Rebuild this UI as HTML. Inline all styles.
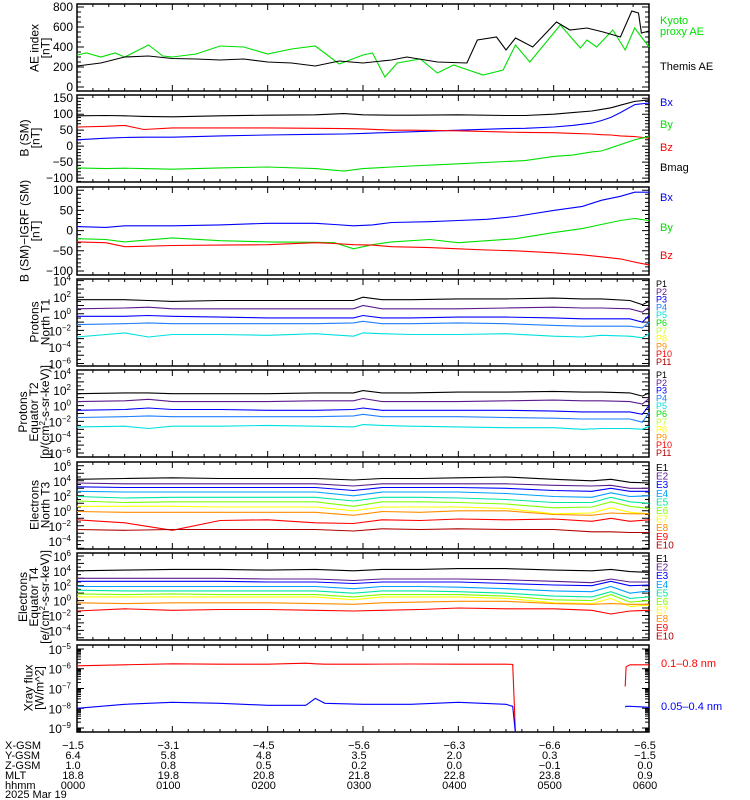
<!DOCTYPE html>
<html><head><meta charset="utf-8"><style>
html,body{margin:0;padding:0;background:#fff;}
svg{display:block;font-family:"Liberation Sans",sans-serif;}
</style></head><body>
<svg id="c" width="750" height="800" viewBox="0 0 750 800" xmlns="http://www.w3.org/2000/svg"></svg>
<script>
// ===== data =====
const aeBlackT=[0,0.25,0.5,0.75,1,1.25,1.5,1.75,2,2.25,2.5,2.75,3,3.3,3.46,3.78,4.09,4.2,4.4,4.5,4.6,4.78,5.03,5.17,5.35,5.52,5.7,5.82,5.89,5.92,6];
const aeBlack=[210,240,300,310,285,280,270,280,250,240,210,260,240,270,300,250,240,470,500,370,490,400,650,570,590,550,500,760,740,540,560];
const aeGreenT=[0,0.1,0.25,0.4,0.5,0.75,0.9,1,1.25,1.5,1.75,2,2.25,2.5,2.75,3,3.1,3.23,3.36,3.6,3.78,3.95,4.26,4.47,4.6,4.75,5.07,5.28,5.35,5.45,5.62,5.75,5.85,6];
const aeGreen=[320,340,300,340,300,420,310,300,330,410,400,330,380,410,230,320,340,100,240,280,140,220,120,170,420,250,620,390,470,400,570,370,590,400];
const bT=[0,0.3,0.5,0.7,1,1.5,2,2.5,2.8,3,3.3,3.5,4,4.5,4.7,5,5.2,5.4,5.5,5.6,5.7,5.85,6];
const bMag=[95,96,95,93,92,95,97,98,102,98,97,97,98,96,96,100,105,110,115,120,128,140,145];
const bX=[20,25,27,28,28,32,35,37,38,40,43,45,50,55,56,60,65,72,80,90,105,130,135];
const bZ=[60,62,65,52,57,57,57,56,55,54,50,50,48,44,43,42,40,38,36,35,32,30,25];
const bY=[-68,-70,-69,-70,-72,-68,-65,-70,-78,-70,-65,-62,-55,-48,-45,-32,-28,-18,-15,-5,5,20,30];
const gT=[0,0.3,0.5,1,1.5,2,2.5,2.7,2.9,3.1,3.3,3.7,4,4.3,4.6,5,5.3,5.5,5.7,5.85,6];
const gX=[10,8,12,12,14,18,18,15,12,14,20,22,25,28,35,50,60,75,85,95,95];
const gY=[-20,-22,-28,-18,-25,-28,-29,-30,-45,-35,-28,-22,-30,-25,-20,-5,5,15,25,30,25];
const gZ=[-28,-30,-40,-37,-36,-35,-30,-32,-35,-36,-40,-42,-45,-48,-50,-55,-60,-65,-70,-78,-85];
const pT=[0,0.5,0.75,1,1.5,2,2.5,2.9,3.0,3.2,3.5,4,4.5,5,5.3,5.5,5.8,5.93,6];
const pN1=[1.7,1.7,1.6,1.5,1.6,1.6,1.6,1.6,2.0,1.7,1.7,1.8,1.8,1.9,1.8,1.8,1.6,1.1,1.5];
const pN2=[0.6,0.7,0.8,0.6,0.6,0.6,0.6,0.6,1.0,0.6,0.6,0.6,0.7,0.8,0.7,0.7,0.6,0.2,0.8];
const pN3=[-0.3,-0.3,-0.2,-0.3,-0.4,-0.5,-0.5,-0.5,-0.2,-0.5,-0.5,-0.4,-0.4,-0.5,-0.6,-0.6,-0.6,-1.0,-0.2];
const pN4=[-1.3,-1.2,-1.1,-1.2,-1.2,-1.2,-1.2,-1.1,-0.9,-1.2,-1.2,-1.1,-1.2,-1.4,-1.5,-1.5,-1.5,-1.7,-1.0];
const pN5=[-2.8,-2.3,-2.8,-2.5,-2.5,-2.6,-2.4,-2.7,-2.3,-2.4,-2.5,-2.5,-2.4,-2.7,-2.8,-2.6,-2.7,-2.9,-2.4];
const pE1=[1.5,1.6,1.6,1.5,1.5,1.5,1.6,1.6,1.9,1.6,1.6,1.7,1.7,1.8,1.7,1.7,1.6,1.2,1.6];
const pE2=[0.5,0.6,0.8,0.5,0.5,0.5,0.6,0.6,0.9,0.5,0.5,0.5,0.6,0.7,0.6,0.6,0.5,0.2,0.9];
const pE3=[-0.6,-0.5,-0.3,-0.5,-0.5,-0.6,-0.6,-0.5,-0.3,-0.6,-0.6,-0.6,-0.6,-0.7,-0.8,-0.8,-0.8,-1.1,0.0];
const pE4=[-1.5,-1.4,-1.3,-1.4,-1.4,-1.4,-1.4,-1.3,-1.1,-1.4,-1.4,-1.4,-1.5,-1.6,-1.7,-1.7,-1.7,-2.1,-0.9];
const pE5=[-2.7,-2.6,-2.9,-2.6,-2.6,-2.5,-2.6,-2.7,-2.4,-2.5,-2.6,-2.7,-2.8,-2.8,-3.0,-2.9,-2.9,-3.0,-2.6];
const eT=[0,0.5,1,1.5,2,2.5,2.9,3.2,3.6,4,4.5,5,5.4,5.6,5.8,6];
const eN1=[4.2,4.3,4.4,4.3,4.3,4.3,4.1,4.3,4.3,4.4,4.5,4.2,4.0,4.2,3.8,3.7];
const eN2=[3.7,3.6,3.6,3.6,3.6,3.6,3.3,3.6,3.6,3.6,3.6,3.4,3.3,3.4,3.0,3.0];
const eN3=[3.2,3.1,3.1,3.1,3.1,3.1,2.7,3.1,3.1,3.1,3.0,2.7,2.6,3.0,2.6,2.6];
const eN4=[2.6,2.5,2.5,2.5,2.5,2.5,2.0,2.5,2.5,2.5,2.3,1.9,1.8,2.4,1.9,2.0];
const eN5=[1.9,1.7,1.8,1.8,1.8,1.8,1.3,1.8,1.8,1.7,1.5,1.1,1.1,1.8,1.2,1.0];
const eN6=[1.3,1.1,1.2,1.2,1.2,1.2,0.6,1.2,1.2,1.1,0.9,0.4,0.5,1.2,0.6,0.3];
const eN7=[0.6,0.6,0.6,0.5,0.5,0.5,0.0,0.5,0.5,0.5,0.3,-0.4,-0.3,0.4,-0.2,-0.4];
const eN8=[-0.1,-0.2,-0.2,-0.2,-0.2,-0.2,-0.6,-0.1,-0.2,0.0,0.0,-0.5,-0.6,-0.3,-0.4,-0.4];
const eN9=[-1.2,-1.6,-2.6,-1.3,-1.2,-1.6,-1.7,-1.2,-1.3,-1.1,-1.2,-1.1,-1.4,-1.0,-1.4,-1.2];
const eN10=[-2.5,-2.6,-2.5,-2.5,-2.5,-2.5,-2.7,-2.4,-2.5,-2.4,-2.5,-2.5,-2.8,-2.8,-2.9,-2.9];
const eE1=[4.0,4.1,4.2,4.2,4.1,4.2,4.0,4.2,4.2,4.3,4.3,4.1,4.0,4.2,3.9,3.8];
const eE2=[3.0,3.0,3.0,3.0,2.9,2.9,2.7,2.9,2.9,2.9,2.8,2.6,2.4,2.9,2.5,2.5];
const eE3=[2.6,2.6,2.6,2.6,2.5,2.5,2.3,2.5,2.5,2.5,2.3,2.1,2.0,2.6,2.0,2.1];
const eE4=[1.9,1.9,1.9,1.9,1.9,1.9,1.6,1.9,1.9,1.8,1.6,1.3,1.2,1.9,1.0,1.3];
const eE5=[1.4,1.3,1.3,1.3,1.3,1.3,1.0,1.3,1.3,1.2,1.0,0.6,0.5,1.2,0.3,0.5];
const eE6=[0.9,0.8,0.9,0.8,0.8,0.8,0.5,0.8,0.8,0.8,0.6,0.1,0.0,0.8,-0.2,0.0];
const eE7=[0.5,0.5,0.5,0.5,0.5,0.5,0.1,0.5,0.5,0.5,0.3,-0.3,-0.4,0.3,-0.8,-0.6];
const eE8=[-0.3,-0.4,-0.3,-0.3,-0.3,-0.4,-0.5,-0.3,-0.2,-0.1,-0.1,-0.4,-0.5,-0.4,-0.5,-0.5];
const eE9=[-1.4,-1.1,-1.3,-1.2,-1.2,-1.3,-1.4,-1.3,-1.2,-1.0,-1.1,-1.1,-1.3,-1.8,-1.4,-1.3];
const xT=[0,0.5,1,1.5,2,2.4,2.5,2.6,3,3.5,4,4.5,4.57,4.6];
const xLong=[-5.85,-5.8,-5.75,-5.77,-5.77,-5.72,-5.75,-5.77,-5.77,-5.76,-5.77,-5.77,-5.78,-9.3];
const xShort=[-8.0,-7.8,-7.7,-7.75,-7.85,-7.85,-7.5,-7.75,-7.8,-7.8,-7.7,-7.8,-7.9,-9.3];
const xT2=[5.75,5.76,5.8,6];
const xLong2=[-6.9,-5.9,-5.8,-5.8];
const xShort2=[-7.95,-7.9,-7.9,-7.95];
const hourLabels=["0000","0100","0200","0300","0400","0500","0600"];
const xgsm=["-1.5","-3.1","-4.5","-5.6","-6.3","-6.6","-6.5"];
const ygsm=["6.4","5.8","4.8","3.5","2.0","0.3","-1.5"];
const zgsm=["1.0","0.8","0.5","0.2","0.0","-0.1","0.0"];
const mlt=["18.8","19.8","20.8","21.8","22.8","23.8","0.9"];

// ===== drawing =====
const svg=document.getElementById('c');
const NS='http://www.w3.org/2000/svg';
const X0=77,X1=649;
const xs=t=>X0+(X1-X0)*t/6;
function el(tag,attrs,parent){const e=document.createElementNS(NS,tag);for(const k in attrs)e.setAttribute(k,attrs[k]);(parent||svg).appendChild(e);return e;}
function yScale(top,bot,vTop,vBot){return v=>top+(vTop-v)/(vTop-vBot)*(bot-top);}
function line(times,vals,ys,color,name,g){
  let d='';for(let i=0;i<times.length;i++){if(vals[i]==null)continue;d+=(d?'L':'M')+xs(times[i]).toFixed(1)+','+ys(vals[i]).toFixed(1);}
  const p=el('path',{d:d,fill:'none',stroke:color,'stroke-width':1.1},g);
  
  
}
function txt(x,y,s,opt,g){const t=el('text',Object.assign({x:x,y:y,'font-size':12,fill:'#000'},opt||{}),g);t.textContent=s;return t;}
function sup(x,y,e,g,anchor){const t=el('text',{x:x,y:y,'font-size':12,'text-anchor':anchor||'end'},g);t.textContent='10';const s=el('tspan',{dy:-5,'font-size':8},t);s.textContent=e;return t;}
function frame(top,bot,name){
  const g=el('g',{});
  
  
  const r=el('rect',{x:X0,y:top,width:X1-X0,height:bot-top,fill:'none',stroke:'#000','stroke-width':1.5},g);
  
  
  let d='';
  for(let m=0;m<=360;m+=10){const x=xs(m/60);const L=(m%60==0)?6:3;d+=`M${x},${top}v${L}M${x},${bot}v${-L}`;}
  el('path',{d:d,stroke:'#000','stroke-width':1},g);
  return g;
}
function linTicks(g,top,bot,vT,vB,major,minor,labels){
  const ys=yScale(top,bot,vT,vB);let d='';
  for(let v=Math.ceil(vB/minor)*minor;v<=vT;v+=minor){const y=ys(v);const L=(Math.abs(v%major)<1e-6)?7:4;d+=`M${X0},${y}h${L}M${X1},${y}h${-L}`;}
  el('path',{d:d,stroke:'#000','stroke-width':1},g);
  labels.forEach(v=>{const t=txt(73,ys(v)+4,String(v).replace('-','\u2212'),{'text-anchor':'end'},g);});
  return ys;
}
function logTicks(g,top,bot,vT,vB,labelEvery,dense){
  const ys=yScale(top,bot,vT,vB);let d='';
  for(let e=Math.floor(vB);e<=Math.ceil(vT);e++){
    const y=ys(e);if(y>=top-0.5&&y<=bot+0.5)d+=`M${X0},${y}h7M${X1},${y}h-7`;
    if(dense){for(let k=2;k<10;k++){const yy=ys(e+Math.log10(k));if(yy>top&&yy<bot)d+=`M${X0},${yy}h4M${X1},${yy}h-4`;}}
    else{const yy=ys(e+0.5);if(yy>top&&yy<bot)d+=`M${X0},${yy}h4M${X1},${yy}h-4`;}
  }
  el('path',{d:d,stroke:'#000','stroke-width':1},g);
  for(let e=Math.ceil(vT);e>=vB;e--){if(((e%labelEvery)+labelEvery)%labelEvery!==0)continue;const y=ys(e);if(y<top-3||y>bot+3)continue;sup(71,y+5,String(e).replace('-','\u2212'),g);}
  return ys;
}
function ytitle(lines,cx,cy,name){
  const g=el('g',{transform:`translate(${cx},${cy}) rotate(-90)`});
  
  
  lines.forEach((s,i)=>{const t=el('text',{x:0,y:(i-(lines.length-1)/2)*11+4,'font-size':12,'text-anchor':'middle'},g);t.innerHTML=s;});
}
function legend(x,items,name,fs){
  const g=el('g',{});
  
  
  items.forEach(it=>{const t=txt(x,it[2],it[0],{fill:it[1],'font-size':fs||11},g);});
}

// Panel 1 AE
let g=frame(4,91,'ae-index-panel');
let ys=linTicks(g,4,91,830,-40,200,50,[800,600,400,200,0]);
line(aeGreenT,aeGreen,ys,'#00e000','kyoto-proxy-ae-line',g);
line(aeBlackT,aeBlack,ys,'#000','themis-ae-line',g);
ytitle(['AE index','[nT]'],40,48,'ae-y-title');
legend(660,[['Kyoto','#00e000',24],['proxy AE','#00e000',35],['Themis AE','#000',70]],'ae-legend');

// Panel 2 B SM
g=frame(95,182,'b-sm-panel');
ys=linTicks(g,95,182,160,-112,50,10,[150,100,50,0,-50,-100]);
line(bT,bMag,ys,'#000','bmag-line',g);
line(bT,bX,ys,'#0000ff','bx-line',g);
line(bT,bZ,ys,'#ff0000','bz-line',g);
line(bT,bY,ys,'#00e000','by-line',g);
ytitle(['B (SM)','[nT]'],30,138,'b-sm-y-title');
legend(660,[['Bx','#0000ff',106],['By','#00e000',128],['Bz','#ff0000',151],['Bmag','#000',171]],'b-sm-legend');

// Panel 3 IGRF
g=frame(187,275,'b-igrf-panel');
ys=linTicks(g,187,275,108,-110,50,10,[100,50,0,-50,-100]);
line(gT,gX,ys,'#0000ff','igrf-bx-line',g);
line(gT,gY,ys,'#00e000','igrf-by-line',g);
line(gT,gZ,ys,'#ff0000','igrf-bz-line',g);
ytitle(['B (SM)\u2212IGRF (SM)','[nT]'],30,231,'b-igrf-y-title');
legend(660,[['Bx','#0000ff',201],['By','#00e000',231],['Bz','#ff0000',259]],'b-igrf-legend');

const pCols=['#000','#5a1a8c','#0000ff','#1e7fff','#00e0e0','#00e000','#c0ff30','#ffff00','#ff8c00','#ff0000','#b00000'];
const eCols=['#000','#5a1a8c','#0000ff','#00a0ff','#00e8a0','#80ff00','#ffff00','#ff8c00','#ff0000','#b00000'];
function pLegend(top,name){legend(656,pCols.map((c,i)=>['P'+(i+1),c,top+8+i*7.8]),name,9);}
function eLegend(top,name){legend(656,eCols.map((c,i)=>['E'+(i+1),c,top+9+i*8.6]),name,10);}

// Panel 4 protons N
g=frame(279,366,'protons-north-panel');
ys=logTicks(g,279,366,4.2,-6.3,2,false);
[pN1,pN2,pN3,pN4,pN5].forEach((a,i)=>line(pT,a,ys,pCols[i],'proton-north-p'+(i+1),g));
ytitle(['Protons','North T1'],40,322,'protons-north-y-title');
pLegend(279,'protons-north-legend');

// Panel 5 protons Eq
g=frame(370,457,'protons-equator-panel');
ys=logTicks(g,370,457,4.5,-6.5,2,false);
[pE1,pE2,pE3,pE4,pE5].forEach((a,i)=>line(pT,a,ys,pCols[i],'proton-equator-p'+(i+1),g));
ytitle(['Protons','Equator T2','[p/(cm<tspan font-size="8" dy="-4">2</tspan><tspan dy="4">-s-sr-keV)]</tspan>'],34,412,'protons-equator-y-title');
pLegend(370,'protons-equator-legend');

// Panel 6 electrons N
g=frame(462,549,'electrons-north-panel');
ys=logTicks(g,462,549,6.5,-5.1,2,false);
[eN1,eN2,eN3,eN4,eN5,eN6,eN7,eN8,eN9,eN10].forEach((a,i)=>line(eT,a,ys,eCols[i],'electron-north-e'+(i+1),g));
ytitle(['Electrons','North T3'],40,505,'electrons-north-y-title');
eLegend(462,'electrons-north-legend');

// Panel 7 electrons Eq
g=frame(553,640,'electrons-equator-panel');
ys=logTicks(g,553,640,6.4,-5.3,2,false);
[eE1,eE2,eE3,eE4,eE5,eE6,eE7,eE8,eE9].forEach((a,i)=>line(eT,a,ys,eCols[i],'electron-equator-e'+(i+1),g));
ytitle(['Electrons','Equator T4','[e/(cm<tspan font-size="8" dy="-4">2</tspan><tspan dy="4">-s-sr-keV)]</tspan>'],34,597,'electrons-equator-y-title');
eLegend(553,'electrons-equator-legend');

// Panel 8 xray
g=frame(645,732,'xray-panel');
ys=logTicks(g,645,732,-4.8,-9.2,1,true);
const cl=el('clipPath',{id:'xc'});el('rect',{x:X0,y:645,width:X1-X0,height:87},cl);
const gx=el('g',{'clip-path':'url(#xc)'},g);
line(xT,xLong,ys,'#ff0000','xray-long-line',gx);
line(xT,xShort,ys,'#0000ff','xray-short-line',gx);
line(xT2,xLong2,ys,'#ff0000','xray-long-line-2',gx);
line(xT2,xShort2,ys,'#0000ff','xray-short-line-2',gx);
ytitle(['Xray flux','[W/m^2]'],34,688,'xray-y-title');
legend(661,[['0.1\u20130.8 nm','#ff0000',667],['0.05\u20130.4 nm','#0000ff',710]],'xray-legend');

// bottom ephemeris
const eg=el('g',{});


const rows=[['X-GSM',xgsm],['Y-GSM',ygsm],['Z-GSM',zgsm],['MLT',mlt],['hhmm',hourLabels]];
rows.forEach((r,i)=>{const y=749+i*10;const t=txt(5,y,r[0],{'font-size':11},eg);
  r[1].forEach((v,j)=>{const tt=txt(xs(j)-4,y,v.replace('-','\u2212'),{'font-size':11,'text-anchor':'middle'},eg);});});
const dt=txt(5,798,'2025 Mar 19',{'font-size':11},eg);


</script>
</body></html>
